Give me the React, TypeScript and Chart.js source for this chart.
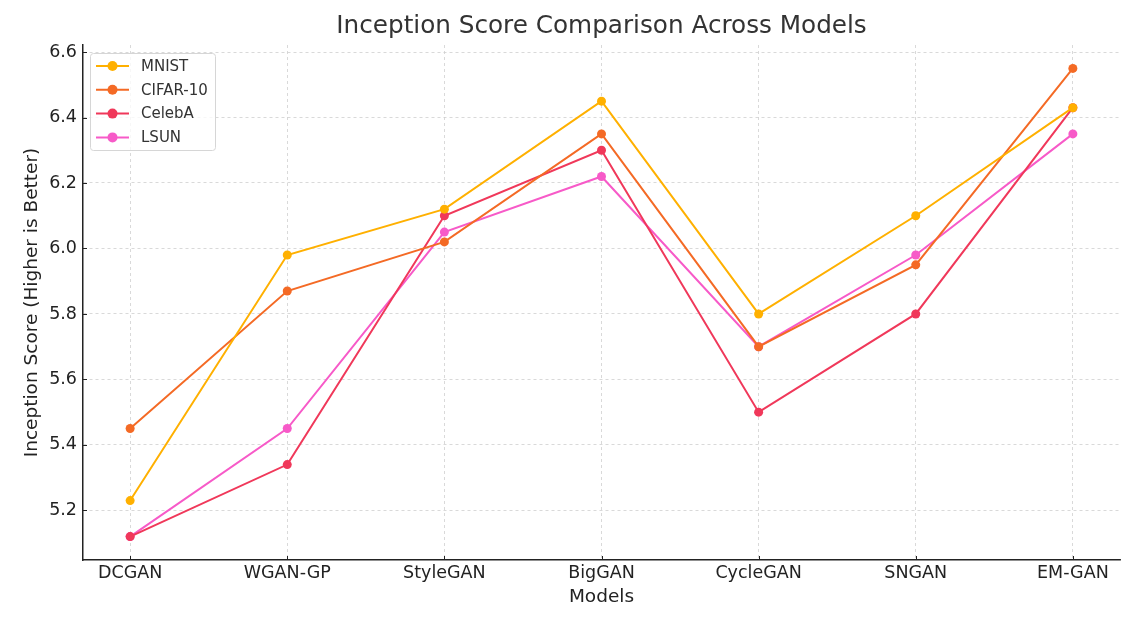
import React, { useEffect, useRef } from "react";
import { Chart, registerables } from "chart.js";

Chart.register(...registerables);

const categories = ["DCGAN", "WGAN-GP", "StyleGAN", "BigGAN", "CycleGAN", "SNGAN", "EM-GAN"];
const mnist = [5.23, 5.98, 6.12, 6.45, 5.8, 6.1, 6.43];
const cifar10 = [5.45, 5.87, 6.02, 6.35, 5.7, 5.95, 6.55];
const celeba = [5.12, 5.34, 6.1, 6.3, 5.5, 5.8, 6.43];
const lsun = [5.12, 5.45, 6.05, 6.22, 5.7, 5.98, 6.35];
const seriesNames = ["MNIST", "CIFAR-10", "CelebA", "LSUN"];
const yTicks = [5.2, 5.4, 5.6, 5.8, 6.0, 6.2, 6.4, 6.6];

const colors = ["#FFB000", "#F46A25", "#F0385A", "#F75AC8"];
const FONT = "'DejaVu Sans', sans-serif";

const legendPlugin = {
  id: "innerLegend",
  afterDraw(chart: any) {
    const ctx = chart.ctx;
    const area = chart.chartArea;
    const x0 = area.left + 7;
    const y0 = area.top + 8;
    const w = 125;
    const h = 97;
    ctx.save();
    ctx.fillStyle = "rgba(255,255,255,0.8)";
    ctx.strokeStyle = "#d6d6d6";
    ctx.lineWidth = 1;
    ctx.beginPath();
    (ctx as any).roundRect(x0 + 0.5, y0 + 0.5, w, h, 3);
    ctx.fill();
    ctx.stroke();
    ctx.font = `15px ${FONT}`;
    ctx.textBaseline = "middle";
    chart.data.datasets.forEach((ds: any, i: number) => {
      const cy = y0 + 13 + i * 23.8;
      ctx.strokeStyle = ds.borderColor;
      ctx.lineWidth = 2;
      ctx.beginPath();
      ctx.moveTo(x0 + 6, cy);
      ctx.lineTo(x0 + 39, cy);
      ctx.stroke();
      ctx.fillStyle = ds.borderColor;
      ctx.beginPath();
      ctx.arc(x0 + 22.5, cy, 5, 0, Math.PI * 2);
      ctx.fill();
      ctx.fillStyle = "#333333";
      ctx.textAlign = "left";
      ctx.fillText(ds.label, x0 + 51, cy + 1);
    });
    ctx.restore();
  },
};

const titlePlugin = {
  id: "topTitle",
  afterDraw(chart: any) {
    const ctx = chart.ctx;
    const area = chart.chartArea;
    ctx.save();
    ctx.font = `24.7px ${FONT}`;
    ctx.fillStyle = "#333333";
    ctx.textAlign = "center";
    ctx.textBaseline = "middle";
    ctx.fillText("Inception Score Comparison Across Models", (area.left + area.right) / 2, 27);
    ctx.restore();
  },
};

const innerTicksPlugin = {
  id: "innerTicks",
  afterDatasetsDraw(chart: any) {
    const ctx = chart.ctx;
    const area = chart.chartArea;
    const xs = chart.scales.x;
    const ys = chart.scales.y;
    ctx.save();
    ctx.strokeStyle = "#222222";
    ctx.lineWidth = 1;
    ctx.beginPath();
    ys.ticks.forEach((t: any) => {
      const y = Math.round(ys.getPixelForValue(t.value)) + 0.5;
      ctx.moveTo(area.left, y);
      ctx.lineTo(area.left + 4, y);
    });
    xs.ticks.forEach((t: any) => {
      const x = Math.round(xs.getPixelForValue(t.value)) + 0.5;
      ctx.moveTo(x, area.bottom);
      ctx.lineTo(x, area.bottom - 4);
    });
    ctx.stroke();
    ctx.restore();
  },
};

export default function App() {
  const ref = useRef<HTMLCanvasElement | null>(null);
  useEffect(() => {
    document.body.style.margin = "0";
    if (!ref.current) return;
    const all = [mnist, cifar10, celeba, lsun];
    const dataMin = Math.min(...all.flat());
    const dataMax = Math.max(...all.flat());
    const pad = (dataMax - dataMin) * 0.05;
    const chart = new Chart(ref.current, {
      type: "line",
      data: {
        datasets: all.map((vals, i) => ({
          label: seriesNames[i],
          data: vals.map((v, j) => ({ x: j, y: v })),
          borderColor: colors[i],
          backgroundColor: colors[i],
          borderWidth: 2,
          pointRadius: 4.5,
          pointBorderWidth: 0,
          pointHoverRadius: 4.5,
          tension: 0,
          fill: false,
        })),
      },
      options: {
        animation: false,
        responsive: false,
        maintainAspectRatio: false,
        layout: { padding: { top: 45, right: 25, left: 0, bottom: 0 } },
        plugins: {
          legend: { display: false },
          title: { display: false },
          tooltip: { enabled: false },
        },
        scales: {
          x: {
            type: "linear",
            min: -0.3,
            max: categories.length - 1 + 0.3,
            afterBuildTicks: (s: any) => {
              s.ticks = categories.map((_, i) => ({ value: i }));
            },
            afterFit: (s: any) => {
              s.height = 62;
            },
            ticks: {
              color: "#222222",
              font: { family: FONT, size: 17.5 },
              padding: 3,
              maxRotation: 0,
              autoSkip: false,
              callback: (v: any) => categories[v as number] ?? "",
            },
            grid: {
              color: "#d0d0d0",
              lineWidth: 0.8,
              drawTicks: false,
            },
            border: { display: true, color: "#222222", width: 1.5, dash: [3, 3] } as any,
            title: {
              display: true,
              text: "Models",
              color: "#222222",
              font: { family: FONT, size: 18.5 },
              padding: { top: 14, bottom: 14 },
            },
          },
          y: {
            type: "linear",
            min: dataMin - pad,
            max: dataMax + pad,
            afterBuildTicks: (s: any) => {
              s.ticks = yTicks.map((v) => ({ value: v }));
            },
            afterFit: (s: any) => {
              s.width = 83;
            },
            ticks: {
              color: "#222222",
              font: { family: FONT, size: 17.5 },
              padding: 6,
              callback: (v: any) => Number(v).toFixed(1),
            },
            grid: {
              color: "#d0d0d0",
              lineWidth: 0.8,
              drawTicks: false,
            },
            border: { display: true, color: "#222222", width: 1.5, dash: [3, 3] } as any,
            title: {
              display: true,
              text: "Inception Score (Higher is Better)",
              color: "#222222",
              font: { family: FONT, size: 18.5 },
              padding: { top: 21, bottom: 21 },
            },
          },
        },
      },
      plugins: [legendPlugin, titlePlugin, innerTicksPlugin],
    } as any);
    return () => chart.destroy();
  }, []);
  return <canvas ref={ref} width={1145} height={622} style={{ display: "block" }} />;
}
